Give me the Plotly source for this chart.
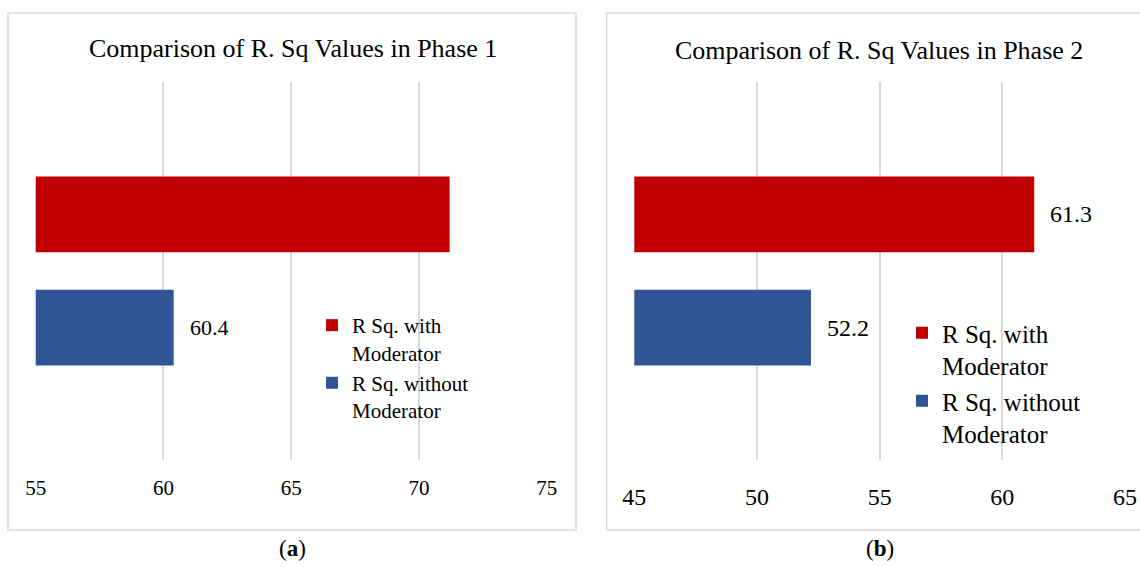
import plotly.graph_objects as go

# ---- data ----
series_names = ["R Sq. with<br>Moderator", "R Sq. without<br>Moderator"]
series_colors = ["#C00000", "#2F5597"]
series_slots = ["with", "without"]
categories = ["without", "with"]  # bottom -> top slot of each panel

phase1_values = [71.2, 60.4]   # with, without
phase2_values = [61.3, 52.2]
phase1_labels = ["", "60.4"]
phase2_labels = ["61.3", "52.2"]

phase1_ticks = [55, 60, 65, 70, 75]
phase2_ticks = [45, 50, 55, 60, 65]

titles = ["Comparison of R. Sq Values in Phase 1", "Comparison of R. Sq Values in Phase 2"]
panel_tags = ["(<b>a</b>)", "(<b>b</b>)"]

W, H = 1140, 567
FONT = "Liberation Serif"


def px(x):
    return x / W


def py(y):
    return 1 - y / H


fig = go.Figure()

for i, (name, color) in enumerate(zip(series_names, series_colors)):
    fig.add_trace(go.Bar(
        x=[phase1_values[i]], y=[series_slots[i]], orientation="h", name=name,
        marker=dict(color=color, line=dict(width=0)), width=0.67,
        xaxis="x", yaxis="y", legend="legend",
    ))
for i, (name, color) in enumerate(zip(series_names, series_colors)):
    fig.add_trace(go.Bar(
        x=[phase2_values[i]], y=[series_slots[i]], orientation="h", name=name,
        marker=dict(color=color, line=dict(width=0)), width=0.67,
        xaxis="x2", yaxis="y2", legend="legend2",
    ))

annotations = []
for vals, labs, xr, yr, size in [(phase1_values, phase1_labels, "x", "y", 22),
                                 (phase2_values, phase2_labels, "x2", "y2", 24)]:
    for i in range(len(series_names)):
        if labs[i]:
            annotations.append(dict(
                x=vals[i], y=series_slots[i], xref=xr, yref=yr, text=labs[i],
                showarrow=False, xanchor="left", yanchor="middle", xshift=14,
                font=dict(family=FONT, size=size, color="#000000")))

title_pos = [(293, 48), (879, 50)]
for t, (cx, cy) in zip(titles, title_pos):
    annotations.append(dict(x=px(cx), y=py(cy), xref="paper", yref="paper", text=t,
                            showarrow=False, xanchor="center", yanchor="middle",
                            font=dict(family=FONT, size=26, color="#000000")))

tag_pos = [(292, 548), (880, 548)]
for t, (cx, cy) in zip(panel_tags, tag_pos):
    annotations.append(dict(x=px(cx), y=py(cy), xref="paper", yref="paper", text=t,
                            showarrow=False, xanchor="center", yanchor="middle",
                            font=dict(family=FONT, size=23, color="#000000")))

box = dict(type="rect", xref="paper", yref="paper",
           line=dict(color="#D9D9D9", width=1.5), fillcolor="rgba(0,0,0,0)", layer="below")
shapes = [
    dict(box, x0=px(8), x1=px(576), y0=py(530), y1=py(13)),
    dict(box, x0=px(606.7), x1=px(1142), y0=py(530), y1=py(13)),
]

ydom = [py(460), py(82)]
xaxis_common = dict(showgrid=True, gridcolor="#D9D9D9", gridwidth=1.5, zeroline=False,
                    showline=False, ticks="", tickmode="array", automargin=False)
yaxis_common = dict(showgrid=False, zeroline=False, showline=False, showticklabels=False,
                    type="category", categoryorder="array", categoryarray=categories,
                    range=[-1.17, 2.17], automargin=False)

fig.update_layout(
    width=W, height=H, autosize=False,
    margin=dict(l=0, r=0, t=0, b=0, pad=0, autoexpand=False),
    paper_bgcolor="white", plot_bgcolor="white",
    barmode="overlay",
    font=dict(family=FONT, color="#000000"),
    xaxis=dict(xaxis_common, domain=[px(35.7), px(546.7)], range=[55, 75],
               tickvals=phase1_ticks, ticktext=[str(v) for v in phase1_ticks],
               tickfont=dict(family=FONT, size=21), anchor="y", ticklabelstandoff=13),
    yaxis=dict(yaxis_common, domain=ydom, anchor="x"),
    xaxis2=dict(xaxis_common, domain=[px(634.3), px(1125)], range=[45, 65],
                tickvals=phase2_ticks, ticktext=[str(v) for v in phase2_ticks],
                tickfont=dict(family=FONT, size=24), anchor="y2", ticklabelstandoff=20),
    yaxis2=dict(yaxis_common, domain=ydom, anchor="x2"),
    legend=dict(x=px(312), y=py(305), xanchor="left", yanchor="top", valign="top",
                traceorder="normal", bgcolor="rgba(0,0,0,0)",
                font=dict(family=FONT, size=21), tracegroupgap=0, itemwidth=30),
    legend2=dict(x=px(902), y=py(310), xanchor="left", yanchor="top", valign="top",
                 traceorder="normal", bgcolor="rgba(0,0,0,0)",
                 font=dict(family=FONT, size=25), tracegroupgap=0, itemwidth=30),
    annotations=annotations,
    shapes=shapes,
)

fig.write_html(
    "out.html",
    config={"responsive": False, "displayModeBar": False},
    post_script="document.body.style.margin='0';document.body.style.padding='0';"
                "document.body.style.overflow='hidden';",
)
